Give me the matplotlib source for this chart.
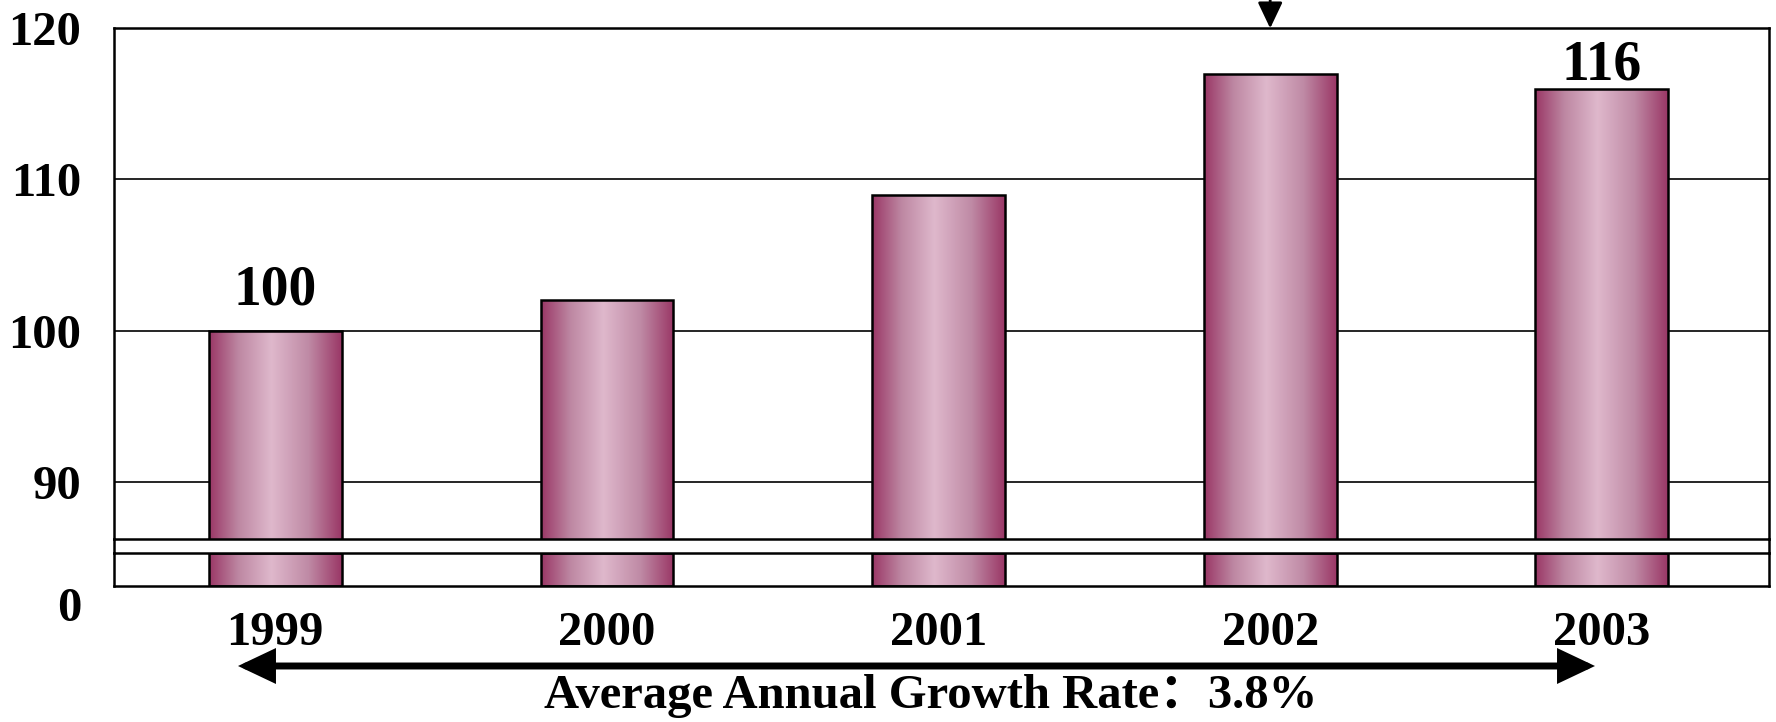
import numpy as np
import matplotlib
matplotlib.use("Agg")
import matplotlib.pyplot as plt
from matplotlib.colors import LinearSegmentedColormap
from matplotlib.lines import Line2D
from matplotlib.patches import FancyArrowPatch

# data
years = ['1999', '2000', '2001', '2002', '2003']
index_values = [100, 102, 109, 117, 116]
y_ticks = [90, 100, 110, 120]
growth_text = 'Average Annual Growth Rate：3.8%'

plt.rcParams['font.family'] = ['Liberation Serif', 'Noto Sans CJK SC']
plt.rcParams['font.weight'] = 'bold'

W, H = 1776, 722
fig = plt.figure(figsize=(W / 100, H / 100), dpi=100)


def fx(px):
    return px / W


def fy(py):
    return 1 - py / H


# frame in pixels
left, right = 114.4, 1769.3
top, brk_top, brk_bot, bottom = 28.3, 538.5, 553.0, 585.6

ax = fig.add_axes([fx(left), fy(brk_top), (right - left) / W, (brk_top - top) / H])
ax_low = fig.add_axes([fx(left), fy(bottom), (right - left) / W, (bottom - brk_bot) / H])

x = np.arange(len(years))
bar_w = 0.4
grad = np.linspace(0, 1, 256).reshape(1, -1)
cmap = LinearSegmentedColormap.from_list('bar', [
    (0.0, '#9a3766'), (0.22, '#bd87a2'), (0.47, '#dfb8cc'),
    (0.75, '#bf8aa5'), (1.0, '#9a3766')])

for a, tops in ((ax, index_values), (ax_low, [1] * len(years))):
    for xi, v in zip(x, tops):
        a.imshow(grad, cmap=cmap, extent=[xi - bar_w / 2, xi + bar_w / 2, 0, v],
                 aspect='auto', zorder=2, interpolation='bilinear')
    a.bar(x, tops, width=bar_w, facecolor='none', edgecolor='black',
          linewidth=1.8, zorder=3)
    a.set_xlim(-0.485, len(years) - 0.495)
    for s in a.spines.values():
        s.set_linewidth(1.8)

ax.set_ylim(86.25, 120)
ax_low.set_ylim(0, 1)

ax.set_yticks(y_ticks)
ax.yaxis.grid(True, color='black', linewidth=1.2)
ax.set_axisbelow(True)
ax.tick_params(axis='y', length=0, pad=24, labelsize=35)
ax.tick_params(axis='x', bottom=False, labelbottom=False)

ax_low.set_yticks([])
ax_low.set_xticks(x)
ax_low.set_xticklabels(years)
ax_low.tick_params(axis='x', length=0, pad=18, labelsize=35)
ax_low.text(-(left - 81.5) / (right - left), -0.72, '0', transform=ax_low.transAxes,
            ha='right', va='center', fontsize=35)

# break band sides
for px in (left, right):
    fig.add_artist(Line2D([fx(px), fx(px)], [fy(brk_top), fy(brk_bot)],
                          transform=fig.transFigure, color='black', linewidth=1.8))

# value labels
ax.text(x[0], index_values[0] + 1.7, '100', ha='center', va='baseline', fontsize=40)
ax.text(x[4], index_values[4] + 0.6, '116', ha='center', va='baseline', fontsize=40)

# arrow pointing at 2002
ax.annotate('', xy=(x[3], 1.0), xycoords=('data', 'axes fraction'),
            xytext=(x[3], 1.07), textcoords=('data', 'axes fraction'),
            annotation_clip=False,
            arrowprops=dict(arrowstyle='-|>,head_length=0.8,head_width=0.38',
                            mutation_scale=20, lw=2, color='black',
                            shrinkA=0, shrinkB=0))

# growth arrow and text
growth_arrow = FancyArrowPatch((fx(238), fy(666)), (fx(1595), fy(666)),
                               transform=fig.transFigure,
                               arrowstyle='<|-|>,head_length=0.95,head_width=0.45',
                               mutation_scale=20, lw=5, color='black',
                               shrinkA=0, shrinkB=0, joinstyle='miter')
fig.add_artist(growth_arrow)
fig.text(fx(931), fy(696), growth_text, ha='center', va='center', fontsize=35)

fig.savefig('out.png', dpi=100)
